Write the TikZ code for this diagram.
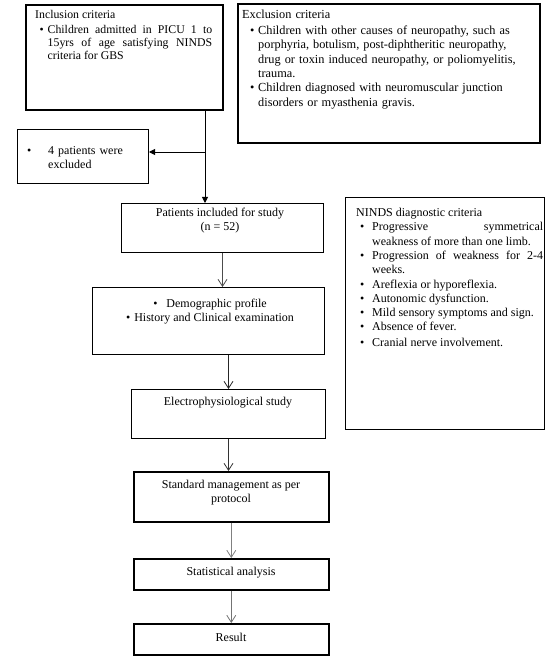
\documentclass[tikz,border=0pt]{standalone}
\usepackage{fontspec}
\setmainfont{Liberation Serif}
\usetikzlibrary{arrows.meta,calc}
\newcommand{\bitem}[3]{\par\noindent\hangindent=#2\hangafter=1\makebox[#2][l]{\hspace*{#1}\textbullet}\ignorespaces#3\par}
\tikzset{
  box/.style={draw=black, line width=1pt, inner sep=0pt, anchor=north west},
  tbox/.style={box, line width=1.6pt},
  txt/.style={inner sep=0pt, anchor=north west, font=\fontsize{12}{14.3}\selectfont},
  ctxt/.style={inner sep=0pt, anchor=north, align=center, font=\fontsize{12}{14}\selectfont},
  solidarrow/.style={draw=black, line width=0.9pt, -{Triangle[length=6pt,width=6pt]}},
  openarrow/.style={line width=0.9pt, -{Straight Barb[length=7pt,width=9pt,line width=0.8pt]}},
}
\begin{document}
\begin{tikzpicture}[x=1pt,y=-1pt]
\useasboundingbox (0,0) rectangle (553,660);
% boxes
\node[tbox, minimum width=197pt, minimum height=105pt] (inc) at (25,4) {};
\node[tbox, minimum width=302pt, minimum height=139pt] (exc) at (237,3) {};
\node[box, minimum width=131pt, minimum height=54pt] (excl) at (17,129) {};
\node[box, minimum width=202pt, minimum height=49pt] (pat) at (121,203) {};
\node[box, minimum width=232pt, minimum height=67pt] (demo) at (92,287) {};
\node[box, minimum width=194pt, minimum height=49pt] (elec) at (131,389) {};
\node[tbox, minimum width=195pt, minimum height=50pt] (std) at (133,471) {};
\node[tbox, minimum width=195pt, minimum height=31pt] (stat) at (133,558) {};
\node[tbox, minimum width=195pt, minimum height=31pt] (res) at (133,623) {};
\node[box, minimum width=199pt, minimum height=232pt] (ninds) at (345,197) {};
% texts
\node[txt, text width=177pt, align=justify, font=\fontsize{11.8}{13.2}\selectfont] (inctext) at (35,10) {%
\hyphenpenalty=10000\exhyphenpenalty=10000
Inclusion criteria\par\vspace{1.5pt}
\bitem{4.5pt}{12.5pt}{Children admitted in PICU 1 to\linebreak 15yrs of age satisfying NINDS\linebreak criteria for GBS}};
\node[txt, text width=285pt, align=left, font=\fontsize{12.3}{14.3}\selectfont] (exctext) at (242,10) {%
\hyphenpenalty=10000\exhyphenpenalty=10000
Exclusion criteria\par\vspace{1.5pt}
\bitem{8pt}{16pt}{Children with other causes of neuropathy, such as\newline porphyria, botulism, post-diphtheritic neuropathy,\newline drug or toxin induced neuropathy, or poliomyelitis,\newline trauma.}
\bitem{8pt}{16pt}{Children diagnosed with neuromuscular junction\newline disorders or myasthenia gravis.}};
\node[txt, text width=120pt, align=left] (excltext) at (27,140) {%
\bitem{0pt}{21pt}{4 patients were\newline excluded}};
\node[ctxt] (pattext) at (220,208) {Patients included for study\\(n = 52)};
\node[ctxt] (demotext) at (210,299) {\textbullet\hspace{9pt}Demographic profile\\\textbullet\hspace{4pt}History and Clinical examination};
\node[ctxt] (electext) at (228,397) {Electrophysiological study};
\node[ctxt] (stdtext) at (231,480) {Standard management as per\\protocol};
\node[ctxt] (stattext) at (231,567) {Statistical analysis};
\node[ctxt] (restext) at (231,633) {Result};
\node[txt, text width=187pt, align=justify] (nindstext) at (356,208) {%
\hyphenpenalty=10000\exhyphenpenalty=10000
NINDS diagnostic criteria\par
\bitem{4pt}{16pt}{Progressive symmetrical\linebreak weakness of more than one limb.}
\bitem{4pt}{16pt}{Progression of weakness for 2-4\linebreak weeks.}
\bitem{4pt}{16pt}{Areflexia or hyporeflexia.}
\bitem{4pt}{16pt}{Autonomic dysfunction.}
\bitem{4pt}{16pt}{Mild sensory symptoms and sign.}
\bitem{4pt}{16pt}{Absence of fever.}
\vspace{1pt}
\bitem{4pt}{16pt}{Cranial nerve involvement.}};
% connectors
\coordinate (j) at (205,152);
\draw[solidarrow] (inc.south -| j) -- (j |- pat.north);
\draw[solidarrow] (j) -- (excl.east |- j);
\draw[openarrow, draw=black!70] (pat.south) -- (pat.south |- demo.north);
\draw[openarrow, draw=black!85] (elec.north |- demo.south) -- (elec.north);
\draw[openarrow, draw=black!80] (elec.south) -- (elec.south |- std.north);
\draw[openarrow, draw=black!50] (std.south) -- (stat.north);
\draw[openarrow, draw=black!55] (stat.south) -- (res.north);
\end{tikzpicture}
\end{document}
